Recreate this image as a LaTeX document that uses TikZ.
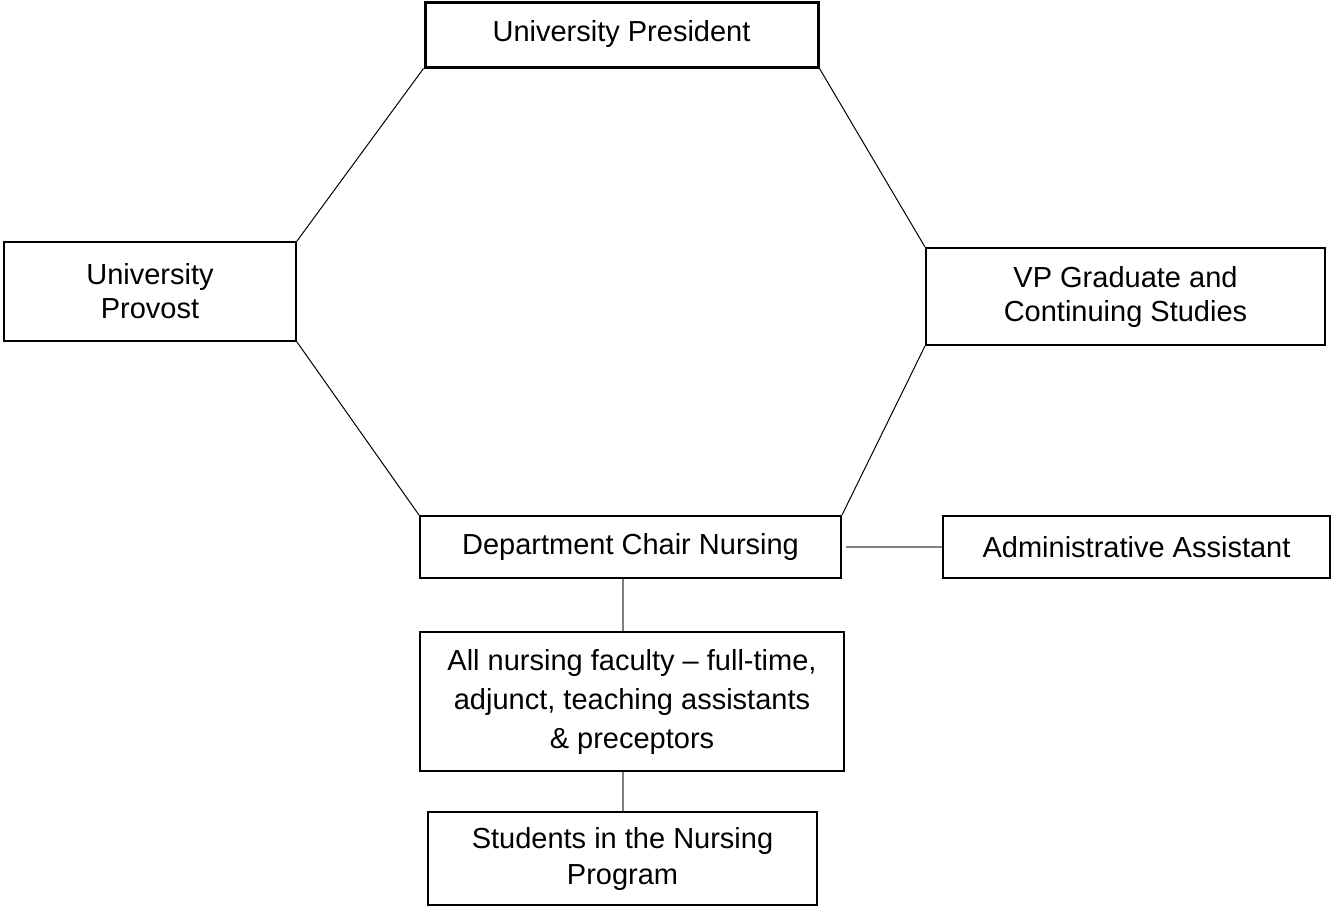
\documentclass[tikz,border=0pt]{standalone}
\usepackage{fontspec}
\setmainfont{Liberation Sans}
\begin{document}
\begin{tikzpicture}[x=0.75pt,y=-0.75pt,
  box/.style={draw,line width=1.5pt,align=center,inner sep=0pt,font=\fontsize{21.75}{25.5}\selectfont},
  link/.style={draw=black!50,line width=1.5pt},
  edge/.style={draw,line width=0.75pt}]
  \useasboundingbox (0,0) rectangle (1333,907);
  \path (621.5,34.5) node[box,line width=2.25pt,minimum width=294.75pt,minimum height=48.75pt] (pres) {University President}
  (150,291.5) node[box,minimum width=219pt,minimum height=74.25pt] (prov) {University\\Provost}
  (1125.5,296.5) node[box,minimum width=299.25pt,minimum height=72.75pt] (vp) {VP Graduate and\\Continuing Studies}
  (630.5,547) node[box,minimum width=315.75pt,minimum height=46.5pt] (chair) {Department Chair Nursing}
  (1136.5,547) node[box,minimum width=290.25pt,minimum height=46.5pt] (admin) {Administrative Assistant}
  (632,701.5) node[box,minimum width=318pt,minimum height=104.25pt,font=\fontsize{21.75}{29.25}\selectfont] (fac) {All nursing faculty -- full-time,\\adjunct, teaching assistants\\\& preceptors}
  (622.5,858.5) node[box,minimum width=291.75pt,minimum height=69.75pt,font=\fontsize{21.75}{27}\selectfont] (stud) {Students in the Nursing\\Program};
  \draw[edge] (pres.south west) -- (prov.north east);
  \draw[edge] (pres.south east) -- (vp.north west);
  \draw[edge] (prov.south east) -- (chair.north west);
  \draw[edge] (vp.south west) -- (chair.north east);
  \draw[link,shorten <=3pt] (chair.east) -- (admin.west);
  \draw[link] (stud.north |- chair.south) -- (stud.north |- fac.north);
  \draw[link] (stud.north |- fac.south) -- (stud.north);
\end{tikzpicture}
\end{document}
